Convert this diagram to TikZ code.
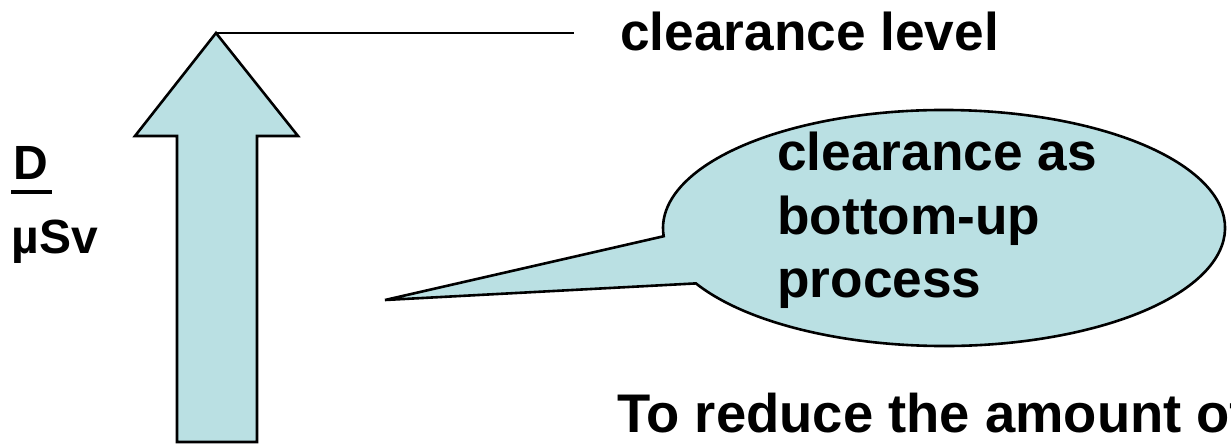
\documentclass[tikz,border=0pt]{standalone}
\usepackage{fontspec}
\setmainfont{Liberation Sans}
\usetikzlibrary{calc}
\definecolor{shaftblue}{RGB}{186,224,227}
\tikzset{
  outlined/.style={draw=black, line width=1.3pt, fill=shaftblue, line join=miter},
  bigtext/.style={font=\fontsize{26.6pt}{31.75pt}\selectfont\bfseries, inner sep=0pt},
  unittext/.style={font=\fontsize{24pt}{28pt}\selectfont\bfseries, inner sep=0pt}
}
\begin{document}
\begin{tikzpicture}[x=0.5pt, y=0.5pt]
  \useasboundingbox (0,0) rectangle (1231,446);
  \fill[white] (0,0) rectangle (1231,446);

  % upward arrow
  \coordinate (tip) at (216,413);
  \draw[outlined] (tip) -- (298,310) -- (257,310) -- (257,4) -- (177,4)
    -- (177,310) -- (135,310) -- cycle;

  % level marker
  \coordinate (levelend) at (574,413);
  \draw[line width=1.2pt] (tip) -- (levelend);
  \node[bigtext, anchor=base west] (level) at (620,396) {clearance level};

  % axis label
  \node[unittext, anchor=base west] (dose) at (13,267)
    {\rlap{\hspace*{-1pt}\rule[-7.5pt]{20.5pt}{2pt}}D};
  \node[unittext, anchor=base west] (unit) at (11,193) {µSv};

  % speech bubble
  \coordinate (ctr) at (944,218);
  \coordinate (point) at (385,146);
  \draw[outlined] ($(ctr)+(184:281 and 118)$) -- (point)
    -- ($(ctr)+(208:281 and 118)$)
    arc[start angle=208, end angle=544, x radius=281, y radius=118] -- cycle;
  \node[bigtext, anchor=north west, align=left] (bubble) at (777,314)
    {clearance as\\bottom-up\\process};

  % caption, running off the right edge
  \node[bigtext, font=\fontsize{27.2pt}{32pt}\selectfont\bfseries, anchor=base west]
    (caption) at (617,14) {To reduce the amount of};
\end{tikzpicture}
\end{document}
